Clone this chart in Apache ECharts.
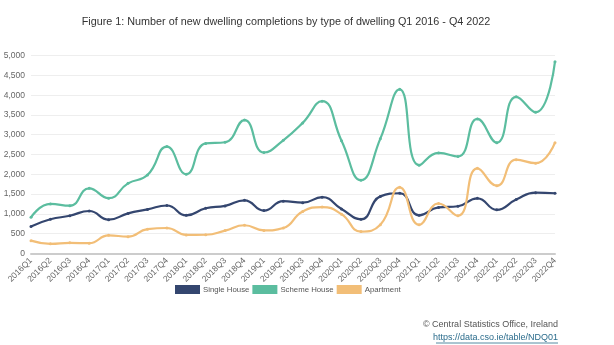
<!DOCTYPE html>
<html>
<head>
<meta charset="utf-8">
<script src="https://cdn.jsdelivr.net/npm/echarts@6/dist/echarts.min.js"></script>
<style>html,body{margin:0;padding:0;background:#fff;}#c{width:614px;height:345px;}</style>
</head>
<body>
<div id="c"></div>
<script>
const categories = ['2016Q1','2016Q2','2016Q3','2016Q4','2017Q1','2017Q2','2017Q3','2017Q4','2018Q1','2018Q2','2018Q3','2018Q4','2019Q1','2019Q2','2019Q3','2019Q4','2020Q1','2020Q2','2020Q3','2020Q4','2021Q1','2021Q2','2021Q3','2021Q4','2022Q1','2022Q2','2022Q3','2022Q4'];
const singleHouse = [680,860,950,1070,850,1010,1110,1210,960,1140,1200,1340,1080,1320,1280,1420,1120,860,1440,1520,960,1160,1190,1390,1100,1360,1535,1520];
const schemeHouse = [910,1250,1205,1645,1395,1770,1980,2700,2000,2780,2810,3370,2550,2860,3300,3850,2850,1850,2900,4150,2230,2540,2450,3400,2800,3960,3570,4850];
const apartment = [320,240,265,255,455,420,610,640,465,470,575,710,580,640,1060,1170,990,550,720,1670,720,1260,950,2150,1710,2370,2280,2800];
const seriesNames = ['Single House','Scheme House','Apartment'];
const colors = ['#34466f','#5bbd9f','#f2be77'];

const chart = echarts.init(document.getElementById('c'));
const mk = (name, data, color) => ({
  name, type: 'line', data, smooth: true,
  symbol: 'circle', symbolSize: 3, showSymbol: true,
  lineStyle: {width: 2.2, color}, itemStyle: {color}
});
chart.setOption({
  animation: false,
  title: {
    text: 'Figure 1: Number of new dwelling completions by type of dwelling Q1 2016 - Q4 2022',
    left: 281, textAlign: 'center', top: 12,
    textStyle: {fontFamily: 'Liberation Sans, Arial', fontSize: 10.8, fontWeight: 'normal', color: '#333'}
  },
  legend: {
    data: seriesNames, left: 170, top: 280,
    itemWidth: 25, itemHeight: 9, itemGap: 3, icon: 'rect',
    textStyle: {fontFamily: 'Liberation Sans, Arial', fontSize: 7.8, color: '#555', padding: [0,0,0,-2]}
  },
  grid: {left: 31, right: 59, top: 55.7, bottom: 91.7, containLabel: false},
  xAxis: {
    type: 'category', data: categories, boundaryGap: false,
    axisLine: {lineStyle: {color: '#ccc', width: 2}},
    axisTick: {show: false},
    axisLabel: {rotate: 45, interval: 0, fontSize: 8.5, color: '#666', fontFamily: 'Liberation Sans, Arial', margin: 6}
  },
  yAxis: {
    type: 'value', min: 0, max: 5000, interval: 500,
    axisLine: {show: false}, axisTick: {show: false},
    splitLine: {lineStyle: {color: '#eee'}},
    axisLabel: {fontSize: 8.5, color: '#666', fontFamily: 'Liberation Sans, Arial', margin: 6,
      formatter: v => v.toLocaleString('en-US')}
  },
  series: [mk(seriesNames[0], singleHouse, colors[0]), mk(seriesNames[1], schemeHouse, colors[1]), mk(seriesNames[2], apartment, colors[2])],
  graphic: [
    {type: 'text', right: 56, top: 320, style: {text: '© Central Statistics Office, Ireland', font: '9px Liberation Sans, Arial', fill: '#555'}},
    {type: 'text', right: 56, top: 333, style: {text: 'https://data.cso.ie/table/NDQ01', font: '9px Liberation Sans, Arial', fill: '#2b6c8c'}},
    {type: 'line', shape: {x1: 436, y1: 343, x2: 558, y2: 343}, style: {stroke: '#2b6c8c', lineWidth: 0.8}}
  ]
});
</script>
</body>
</html>
